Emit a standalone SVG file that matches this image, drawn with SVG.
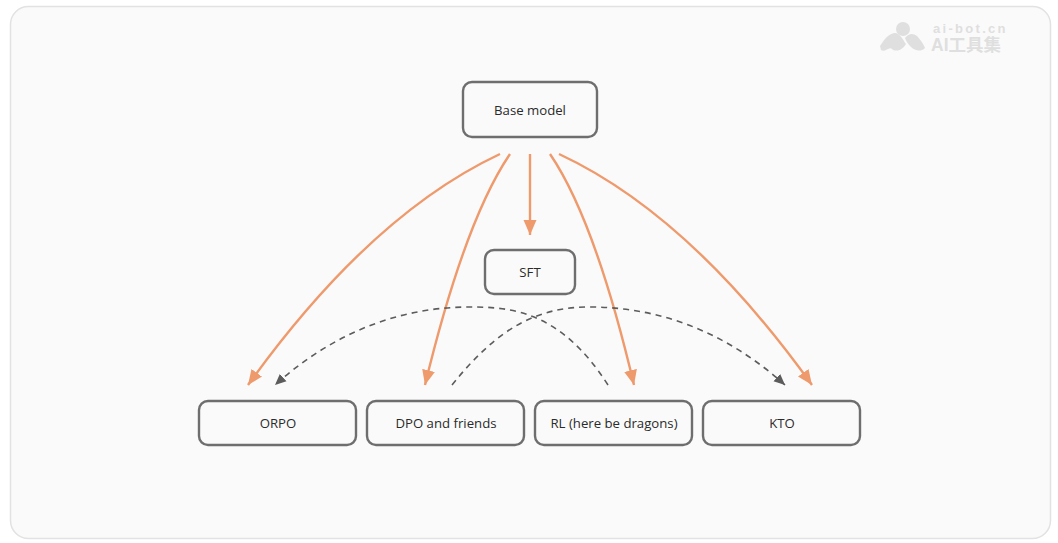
<svg xmlns="http://www.w3.org/2000/svg" width="1058" height="543" viewBox="0 0 1058 543">
<style>
.node{fill:#fafafa;stroke:#6e6e6e;stroke-width:2.4}
.lbl{font-family:"Open Sans","Noto Sans","Liberation Sans",sans-serif;font-size:13.2px;font-weight:500;fill:#2b2b2b;text-anchor:middle}
.o{fill:none;stroke:#ee9a6c;stroke-width:2.4}
.d{fill:none;stroke:#5c5c5c;stroke-width:1.6;stroke-dasharray:6 5}
.wm{font-family:"Liberation Sans","Noto Sans CJK SC",sans-serif;font-weight:700;fill:#dfdfdf}
</style>
<defs>
<marker id="ao" markerUnits="userSpaceOnUse" markerWidth="16" markerHeight="14" refX="15" refY="7" orient="auto"><path d="M0 0.5L15 7L0 13.5z" fill="#ee9a6c"/></marker>
<marker id="ad" markerUnits="userSpaceOnUse" markerWidth="12" markerHeight="11" refX="11" refY="5.5" orient="auto"><path d="M0 0.5L11 5.5L0 10.5z" fill="#5c5c5c"/></marker>
</defs>
<rect x="10.500" y="6.500" width="1040" height="532" rx="18" fill="#fafafa" stroke="#e2e2e2" stroke-width="1.500"/>
<g id="watermark">
<circle cx="903" cy="29" r="7" fill="#dfdfdf"/>
<path d="M880 46C885 38 890 33 895 33C900 33 903 40 906 44C902 51 895 52 892 49C889 46 885 53 881 50Z M905 38C909 33 913 33 917 36C921 40 924 45 925 48C921 52 915 51 911 47C908 44 906 41 905 38Z" fill="#dfdfdf"/>
<text class="wm" x="933" y="33" font-size="13" letter-spacing="2.300">ai-bot.cn</text>
<text class="wm" x="931" y="51" font-size="17.500">AI工具集</text>
</g>
<g id="connectors">
<path class="o" marker-end="url(#ao)" d="M500 154Q370 215 248 385"/>
<path class="o" marker-end="url(#ao)" d="M510 154Q465 220 425 385"/>
<path class="o" marker-end="url(#ao)" d="M530 154L530 235"/>
<path class="o" marker-end="url(#ao)" d="M550 154Q595 220 634 385"/>
<path class="o" marker-end="url(#ao)" d="M559 154Q690 215 812 385"/>
<path class="d" marker-end="url(#ad)" d="M608 385C560 310 510 307 470 307C390 307 325 340 275 385"/>
<path class="d" marker-end="url(#ad)" d="M452 385C500 325 540 307 590 307C670 307 735 340 785 385"/>
</g>
<g id="base-model"><rect class="node" x="463" y="82" width="134" height="55" rx="9"/><text class="lbl" x="530" y="115">Base model</text></g>
<g id="sft"><rect class="node" x="485" y="250" width="90" height="44" rx="9"/><text class="lbl" x="530" y="277">SFT</text></g>
<g id="orpo"><rect class="node" x="199" y="401" width="157" height="44" rx="9"/><text class="lbl" x="278" y="428">ORPO</text></g>
<g id="dpo"><rect class="node" x="367" y="401" width="157" height="44" rx="9"/><text class="lbl" x="446" y="428">DPO and friends</text></g>
<g id="rl"><rect class="node" x="535" y="401" width="157" height="44" rx="9"/><text class="lbl" x="614" y="428">RL (here be dragons)</text></g>
<g id="kto"><rect class="node" x="703" y="401" width="157" height="44" rx="9"/><text class="lbl" x="782" y="428">KTO</text></g>
</svg>
